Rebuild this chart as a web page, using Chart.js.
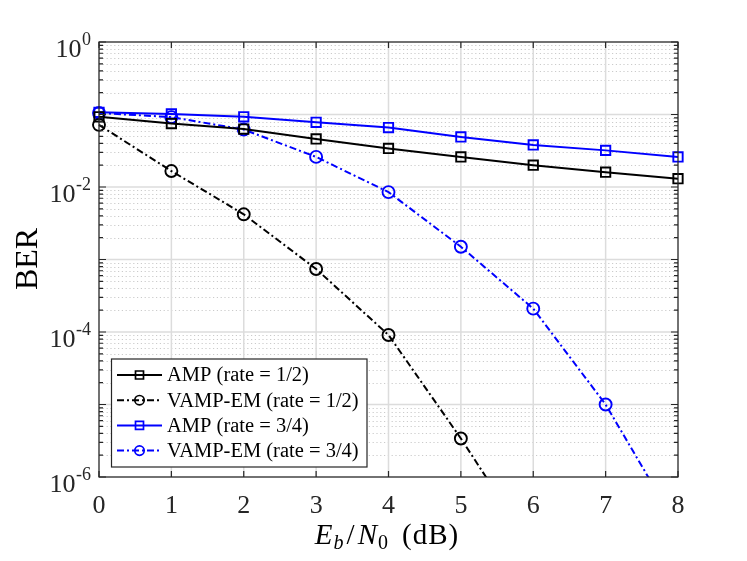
<!DOCTYPE html>
<html>
<head>
<meta charset="utf-8">
<script src="https://cdn.jsdelivr.net/npm/chart.js@4.4.1/dist/chart.umd.min.js"></script>
<style>
  html, body { margin: 0; padding: 0; background: #ffffff; }
  #wrap { width: 747px; height: 561px; position: relative; }
</style>
</head>
<body>
<div id="wrap"><canvas id="c"></canvas></div>
<script>
// ---- data ----
const snrDb = [0, 1, 2, 3, 4, 5, 6, 7, 8];
const ampRateHalf = [0.093, 0.075, 0.063, 0.046, 0.034, 0.026, 0.020, 0.016, 0.013];
const vampRateHalf = [0.072, 0.0166, 0.0042, 7.4e-4, 9.1e-5, 3.4e-6, 1.0e-7, null, null];
const ampRateThreeQuarter = [0.107, 0.102, 0.093, 0.078, 0.066, 0.049, 0.038, 0.032, 0.026];
const vampRateThreeQuarter = [0.105, 0.092, 0.062, 0.026, 0.0085, 0.0015, 2.1e-4, 1.0e-5, 2.0e-7];

const seriesLabels = ['AMP (rate = 1/2)', 'VAMP-EM (rate = 1/2)', 'AMP (rate = 3/4)', 'VAMP-EM (rate = 3/4)'];
const xTickLabels = ['0', '1', '2', '3', '4', '5', '6', '7', '8'];
const yTickExponents = ['0', '-2', '-4', '-6'];
const yAxisTitle = 'BER';

const SERIF = "'Liberation Serif', 'Times New Roman', serif";
const DASHDOT = [7, 3, 2, 3];

function pts(vals) {
  return snrDb.map((x, i) => ({ x: x, y: vals[i] }));
}

function ds(label, vals, color, dashed, style) {
  return {
    label: label,
    data: pts(vals),
    borderColor: color,
    backgroundColor: 'rgba(0,0,0,0)',
    borderWidth: 2,
    borderDash: dashed ? DASHDOT : [],
    pointStyle: style,
    pointRadius: style === 'rect' ? 6.6 : 6,
    pointBorderWidth: 1.9,
    pointBorderColor: color,
    pointBackgroundColor: 'rgba(0,0,0,0)',
    pointHoverRadius: 0,
    tension: 0,
    spanGaps: false,
    clip: { left: 10, top: 10, right: 10, bottom: 0 }
  };
}

function drawSpaced(ctx, text, x, y, spacing) {
  let cx = x;
  for (const ch of text) {
    ctx.fillText(ch, cx, y);
    cx += ctx.measureText(ch).width + spacing;
  }
  return cx - x;
}
function spacedWidth(ctx, text, spacing) {
  let w = 0;
  for (const ch of text) w += ctx.measureText(ch).width + spacing;
  return w;
}

const matlabAxes = {
  id: 'matlabAxes',
  beforeDatasetsDraw(chart) {
    const { ctx, chartArea: a, scales: { x, y } } = chart;
    ctx.save();
    ctx.fillStyle = '#ffffff';
    ctx.fillRect(a.left, a.top, a.right - a.left, a.bottom - a.top);
    // minor dotted grid
    ctx.strokeStyle = '#cbcbcb';
    ctx.lineWidth = 1.1;
    ctx.setLineDash([1.2, 2.6]);
    for (let e = -6; e < 0; e++) {
      for (let m = 2; m <= 9; m++) {
        const py = Math.round(y.getPixelForValue(m * Math.pow(10, e))) + 0.5;
        ctx.beginPath(); ctx.moveTo(a.left, py); ctx.lineTo(a.right, py); ctx.stroke();
      }
    }
    // major grid
    ctx.setLineDash([]);
    ctx.strokeStyle = '#dcdcdc';
    ctx.lineWidth = 1.5;
    for (let e = -6; e <= 0; e++) {
      const py = y.getPixelForValue(Math.pow(10, e));
      ctx.beginPath(); ctx.moveTo(a.left, py); ctx.lineTo(a.right, py); ctx.stroke();
    }
    snrDb.forEach(v => {
      const px = x.getPixelForValue(v);
      ctx.beginPath(); ctx.moveTo(px, a.top); ctx.lineTo(px, a.bottom); ctx.stroke();
    });
    ctx.restore();
  },
  afterDatasetsDraw(chart) {
    const { ctx, chartArea: a, scales: { x, y } } = chart;
    ctx.save();
    const axCol = '#262626';
    ctx.strokeStyle = axCol;
    ctx.lineWidth = 1.2;
    ctx.setLineDash([]);
    // box
    ctx.strokeRect(a.left, a.top, a.right - a.left, a.bottom - a.top);
    // x ticks (bottom and top, inward)
    snrDb.forEach(v => {
      const px = x.getPixelForValue(v);
      ctx.beginPath();
      ctx.moveTo(px, a.bottom); ctx.lineTo(px, a.bottom - 6);
      ctx.moveTo(px, a.top); ctx.lineTo(px, a.top + 6);
      ctx.stroke();
    });
    // y ticks
    for (let e = -6; e <= 0; e++) {
      for (let m = 1; m <= 9; m++) {
        if (e === 0 && m > 1) break;
        const py = y.getPixelForValue(m * Math.pow(10, e));
        const len = m === 1 ? 7 : 4;
        ctx.beginPath();
        ctx.moveTo(a.left, py); ctx.lineTo(a.left + len, py);
        ctx.moveTo(a.right, py); ctx.lineTo(a.right - len, py);
        ctx.stroke();
      }
    }
    // x tick labels
    ctx.fillStyle = axCol;
    ctx.font = '26px ' + SERIF;
    ctx.textAlign = 'center';
    ctx.textBaseline = 'alphabetic';
    snrDb.forEach((v, i) => {
      ctx.fillText(xTickLabels[i], x.getPixelForValue(v), 513);
    });
    // y tick labels: 10^exp
    yTickExponents.forEach(ex => {
      const py = y.getPixelForValue(Math.pow(10, Number(ex)));
      ctx.font = '18px ' + SERIF;
      const ew = ctx.measureText(ex).width;
      const expLeft = 91 - ew;
      ctx.textAlign = 'left';
      ctx.fillText(ex, expLeft, py + 3);
      ctx.font = '26px ' + SERIF;
      ctx.textAlign = 'right';
      ctx.fillText('10', expLeft - 0.5, py + 15);
    });
    // y axis title
    ctx.save();
    ctx.translate(37, 259);
    ctx.rotate(-Math.PI / 2);
    ctx.font = '32px ' + SERIF;
    ctx.textAlign = 'center';
    ctx.textBaseline = 'alphabetic';
    ctx.fillStyle = '#000';
    ctx.fillText(yAxisTitle, 0, 0);
    ctx.restore();
    // x axis title: E_b/N_0 (dB)
    const sp = 1;
    const parts = [
      { t: 'E', f: 'italic 29px ' + SERIF, dy: 0 },
      { t: 'b', f: 'italic 20px ' + SERIF, dy: 5 },
      { t: '/', f: '29px ' + SERIF, dy: 0, pad: 2 },
      { t: 'N', f: 'italic 29px ' + SERIF, dy: 0, pad: 2 },
      { t: '0', f: '20px ' + SERIF, dy: 5 },
      { t: '(dB)', f: '29px ' + SERIF, dy: 0, pad: 13 }
    ];
    let total = 0;
    ctx.textAlign = 'left';
    parts.forEach(p => { ctx.font = p.f; p.w = spacedWidth(ctx, p.t, sp); total += p.w + (p.pad || 0); });
    let cx = 387 - total / 2;
    ctx.fillStyle = '#000';
    parts.forEach(p => {
      cx += (p.pad || 0);
      ctx.font = p.f;
      drawSpaced(ctx, p.t, cx, 544 + p.dy, sp);
      cx += p.w;
    });
    // legend
    const L = { left: 111.5, top: 359, right: 367, bottom: 467 };
    ctx.fillStyle = '#ffffff';
    ctx.fillRect(L.left, L.top, L.right - L.left, L.bottom - L.top);
    ctx.strokeStyle = axCol;
    ctx.lineWidth = 1.2;
    ctx.strokeRect(L.left, L.top, L.right - L.left, L.bottom - L.top);
    chart.data.datasets.forEach((d, i) => {
      const ry = 375 + i * 25.2;
      ctx.strokeStyle = d.borderColor;
      ctx.lineWidth = d.borderWidth;
      ctx.setLineDash(d.borderDash);
      ctx.beginPath(); ctx.moveTo(117, ry); ctx.lineTo(162, ry); ctx.stroke();
      ctx.setLineDash([]);
      ctx.lineWidth = 1.7;
      ctx.beginPath();
      if (d.pointStyle === 'rect') {
        ctx.rect(139.5 - 4, ry - 4, 8, 8);
      } else {
        ctx.arc(139.5, ry, 4.7, 0, Math.PI * 2);
      }
      ctx.stroke();
      ctx.fillStyle = '#000';
      ctx.font = '20.5px ' + SERIF;
      ctx.textAlign = 'left';
      ctx.textBaseline = 'middle';
      ctx.fillText(d.label, 167, ry + 1);
    });
    ctx.restore();
  }
};

new Chart(document.getElementById('c'), {
  type: 'line',
  data: {
    datasets: [
      ds(seriesLabels[0], ampRateHalf, '#000000', false, 'rect'),
      ds(seriesLabels[1], vampRateHalf, '#000000', true, 'circle'),
      ds(seriesLabels[2], ampRateThreeQuarter, '#0000ff', false, 'rect'),
      ds(seriesLabels[3], vampRateThreeQuarter, '#0000ff', true, 'circle')
    ]
  },
  options: {
    responsive: true,
    maintainAspectRatio: false,
    animation: false,
    events: [],
    layout: { padding: { left: 99, top: 42, right: 69, bottom: 84 } },
    plugins: { legend: { display: false }, tooltip: { enabled: false }, title: { display: false } },
    scales: {
      x: { type: 'linear', min: 0, max: 8, display: false },
      y: { type: 'logarithmic', min: 1e-6, max: 1, display: false }
    }
  },
  plugins: [matlabAxes]
});
</script>
</body>
</html>
